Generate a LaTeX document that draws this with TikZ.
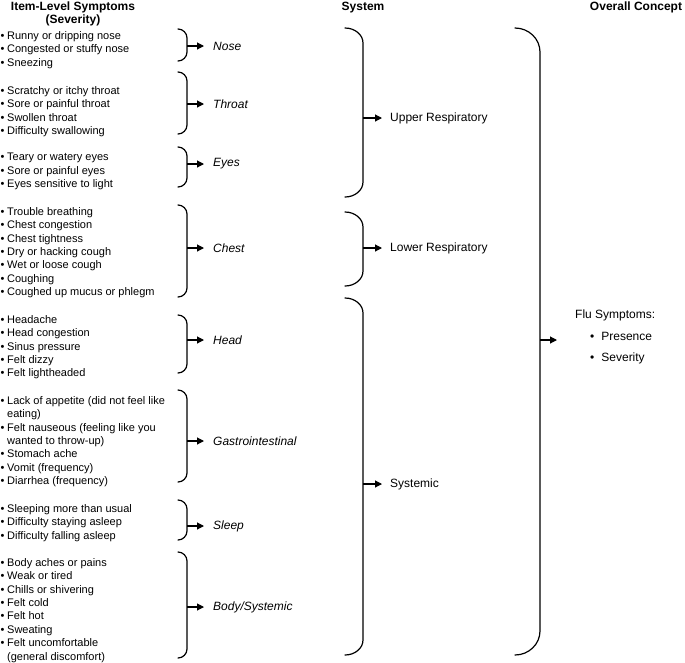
\documentclass[tikz,border=0pt]{standalone}
\usepackage{fontspec}
\setmainfont{Liberation Sans}
\usetikzlibrary{arrows.meta}

\tikzset{
  brace/.style={line width=1.2pt, line cap=round},
  conn/.style={line width=1.1pt, -{Triangle[length=7pt,width=7pt]}},
  itemlist/.style={anchor=north west, inner sep=0pt, align=left, font=\fontsize{11}{13.45}\selectfont},
  group/.style={anchor=west, inner sep=0pt, font=\fontsize{12}{14}\selectfont\itshape},
  syslabel/.style={anchor=west, inner sep=0pt, font=\fontsize{12}{14}\selectfont},
  header/.style={inner sep=0pt, align=center, font=\fontsize{12}{13}\selectfont\bfseries},
}
\newcommand\itm[1]{\makebox[7pt][l]{\hspace{0.5pt}•}#1}
\newcommand\cnt[1]{\hspace*{7pt}#1}
% name, xleft, xright, radius, ytop, ybottom, yarrow
\newcommand\flubrace[7]{%
  \draw[brace] (#2,#5) .. controls ({#2+0.55*(#3-#2)},#5) and (#3,{#5+0.45*#4}) .. (#3,{#5+#4})
    -- (#3,{#6-#4}) .. controls (#3,{#6-0.45*#4}) and ({#2+0.55*(#3-#2)},#6) .. (#2,#6);
  \coordinate (#1) at (#3,#7);
}

\begin{document}
\begin{tikzpicture}[x=1pt,y=-1pt]
\useasboundingbox (0,0) rectangle (685,662);

% headers
\node[header, anchor=north] (h1) at (73,1.9) {Item-Level Symptoms\\(Severity)};
\node[header, anchor=base] (h2) at (363,10.5) {System};
\node[header, anchor=base] (h3) at (636,10.5) {Overall Concept};

% item lists
\node[itemlist] (iNose) at (0,31) {\itm{Runny or dripping nose}\\\itm{Congested or stuffy nose}\\\itm{Sneezing}};
\node[itemlist] (iThroat) at (0,86) {\itm{Scratchy or itchy throat}\\\itm{Sore or painful throat}\\\itm{Swollen throat}\\\itm{Difficulty swallowing}};
\node[itemlist] (iEyes) at (0,153) {\itm{Teary or watery eyes}\\\itm{Sore or painful eyes}\\\itm{Eyes sensitive to light}};
\node[itemlist] (iChest) at (0,207) {\itm{Trouble breathing}\\\itm{Chest congestion}\\\itm{Chest tightness}\\\itm{Dry or hacking cough}\\\itm{Wet or loose cough}\\\itm{Coughing}\\\itm{Coughed up mucus or phlegm}};
\node[itemlist] (iHead) at (0,315) {\itm{Headache}\\\itm{Head congestion}\\\itm{Sinus pressure}\\\itm{Felt dizzy}\\\itm{Felt lightheaded}};
\node[itemlist] (iGI) at (0,396) {\itm{Lack of appetite (did not feel like}\\\cnt{eating)}\\\itm{Felt nauseous (feeling like you}\\\cnt{wanted to throw-up)}\\\itm{Stomach ache}\\\itm{Vomit (frequency)}\\\itm{Diarrhea (frequency)}};
\node[itemlist] (iSleep) at (0,504) {\itm{Sleeping more than usual}\\\itm{Difficulty staying asleep}\\\itm{Difficulty falling asleep}};
\node[itemlist] (iBody) at (0,558) {\itm{Body aches or pains}\\\itm{Weak or tired}\\\itm{Chills or shivering}\\\itm{Felt cold}\\\itm{Felt hot}\\\itm{Sweating}\\\itm{Felt uncomfortable}\\\cnt{(general discomfort)}};

% item-level braces
\flubrace{bNose}{178}{187}{9}{29}{61}{46}
\flubrace{bThroat}{178}{187}{9}{72}{134}{104}
\flubrace{bEyes}{178}{187}{9}{147}{187}{164}
\flubrace{bChest}{178}{187}{9}{205}{297}{248}
\flubrace{bHead}{178}{187}{9}{315}{373}{340}
\flubrace{bGI}{178}{187}{9}{390}{482}{441}
\flubrace{bSleep}{178}{187}{9}{500}{540}{526}
\flubrace{bBody}{178}{187}{9}{552}{658}{607}

% group labels
\node[group] (lNose) at (213,46) {Nose};
\node[group] (lThroat) at (213,104) {Throat};
\node[group] (lEyes) at (213,164) {Eyes};
\node[group] (lChest) at (213,248) {Chest};
\node[group] (lHead) at (213,340) {Head};
\node[group] (lGI) at (213,441) {Gastrointestinal};
\node[group] (lSleep) at (213,526) {Sleep};
\node[group] (lBody) at (213,607) {Body/Systemic};

\foreach \g in {Nose,Throat,Eyes,Chest,Head,GI,Sleep,Body}
  \draw[conn, shorten >=9pt] (b\g) -- (b\g -| l\g.west);

% system braces
\flubrace{bUpper}{345}{363}{15}{28}{197}{118}
\flubrace{bLower}{345}{363}{15}{212}{286}{248}
\flubrace{bSys}{345}{363}{15}{298}{655}{484}

\node[syslabel] (sUpper) at (390,118) {Upper Respiratory};
\node[syslabel] (sLower) at (390,248) {Lower Respiratory};
\node[syslabel] (sSys) at (390,484) {Systemic};

\foreach \g in {Upper,Lower,Sys}
  \draw[conn, shorten >=8pt] (b\g) -- (b\g -| s\g.west);

% overall brace
\flubrace{bAll}{515}{540}{24}{28}{655}{340}
\node[anchor=west, inner sep=0pt, align=left, font=\fontsize{12}{21.5}\selectfont] (flu) at (575,337)
  {Flu Symptoms:\\\hspace*{15pt}•\hspace{7pt}Presence\\\hspace*{15pt}•\hspace{7pt}Severity};
\draw[conn, shorten >=18pt] (bAll) -- (bAll -| flu.west);
\end{tikzpicture}
\end{document}
